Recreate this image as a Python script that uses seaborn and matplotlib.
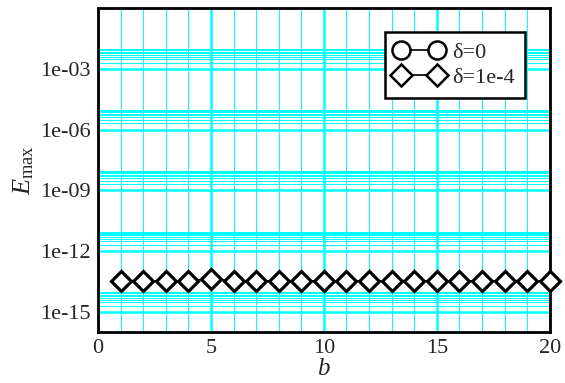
import numpy as np
import pandas as pd
import matplotlib
matplotlib.use("Agg")
import matplotlib.pyplot as plt
import seaborn as sns
from matplotlib.lines import Line2D
from matplotlib.ticker import FixedLocator, FixedFormatter

# Data
b_values = list(range(1, 21))
err_delta0 = [0.0] * 20  # exact (zero error -> not shown on log axis)
err_delta1e4 = [3.3e-14, 3.3e-14, 3.3e-14, 3.3e-14, 4.3e-14, 3.3e-14, 3.3e-14, 3.3e-14,
                3.3e-14, 3.3e-14, 3.3e-14, 3.3e-14, 3.3e-14, 3.3e-14, 3.3e-14, 3.3e-14,
                3.3e-14, 3.3e-14, 3.3e-14, 3.3e-14]
series_labels = ["δ=0", "δ=1e-4"]
x_ticks = [0, 5, 10, 15, 20]
y_major = [1e-15, 1e-12, 1e-9, 1e-6, 1e-3]
y_major_labels = ["1e-15", "1e-12", "1e-09", "1e-06", "1e-03"]

sns.set_style("white")
plt.rcParams['font.family'] = ['Liberation Serif', 'DejaVu Serif']
plt.rcParams['mathtext.fontset'] = 'custom'
plt.rcParams['mathtext.rm'] = 'Liberation Serif'
plt.rcParams['mathtext.it'] = 'Liberation Serif:italic'
plt.rcParams['grid.color'] = '#00FFFF'
plt.rcParams['grid.alpha'] = 1.0

fig = plt.figure(figsize=(5.65, 3.83), dpi=100)
ax = fig.add_axes([0.1735, 0.1332, 0.7995, 0.8458])

df = pd.DataFrame({"b": b_values * 2,
                   "err": err_delta0 + err_delta1e4,
                   "series": [series_labels[0]] * 20 + [series_labels[1]] * 20})
df = df[df["err"] > 0]

ax.set_yscale("log")
markers = {series_labels[0]: "o", series_labels[1]: "D"}
for lab in series_labels:
    sub = df[df["series"] == lab]
    if len(sub):
        sns.lineplot(data=sub, x="b", y="err", ax=ax, color="black", lw=1.2,
                     marker=markers[lab], markersize=10.5, markerfacecolor="white",
                     markeredgecolor="black", markeredgewidth=2.3, legend=False,
                     zorder=5, clip_on=False)

ax.set_xlim(0, 20)
ax.set_ylim(1e-16, 1)

ax.set_xticks(x_ticks)
ax.xaxis.set_minor_locator(FixedLocator(np.arange(0, 21, 1)))
ax.yaxis.set_major_locator(FixedLocator(y_major))
ax.yaxis.set_major_formatter(FixedFormatter(y_major_labels))
minor_y = [k * m for m in y_major for k in range(2, 10)]
ax.yaxis.set_minor_locator(FixedLocator(minor_y))
ax.yaxis.set_minor_formatter(FixedFormatter([""] * len(minor_y)))

ax.tick_params(which="major", grid_color="#00FFFF", grid_linewidth=1.8)
ax.tick_params(which="minor", grid_color="#00FFFF", grid_linewidth=0.75, grid_alpha=1.0)
ax.grid(which="major", visible=True)
ax.grid(which="minor", visible=True)
ax.set_axisbelow(True)
ax.tick_params(which="both", length=0, labelsize=16, pad=5)

for s in ax.spines.values():
    s.set_color("black")
    s.set_linewidth(2)

ax.set_xlabel("$b$", fontsize=18, labelpad=0)
ax.set_ylabel(r"$E_{\mathrm{max}}$", fontsize=19, labelpad=3)

handles = [Line2D([], [], color="black", lw=1.2, marker="o", markersize=13,
                  markerfacecolor="white", markeredgecolor="black", markeredgewidth=1.8),
           Line2D([], [], color="black", lw=1.2, marker="D", markersize=11,
                  markerfacecolor="white", markeredgecolor="black", markeredgewidth=1.8)]
leg = ax.legend(handles, series_labels, loc="upper right", numpoints=2, fontsize=16,
                frameon=True, fancybox=False, edgecolor="black", framealpha=1,
                bbox_to_anchor=(0.97, 0.96), handlelength=2.2, handletextpad=0.4,
                borderpad=0.45, labelspacing=0.2)
leg.get_frame().set_linewidth(1.8)

fig.savefig("out.png", dpi=100)
